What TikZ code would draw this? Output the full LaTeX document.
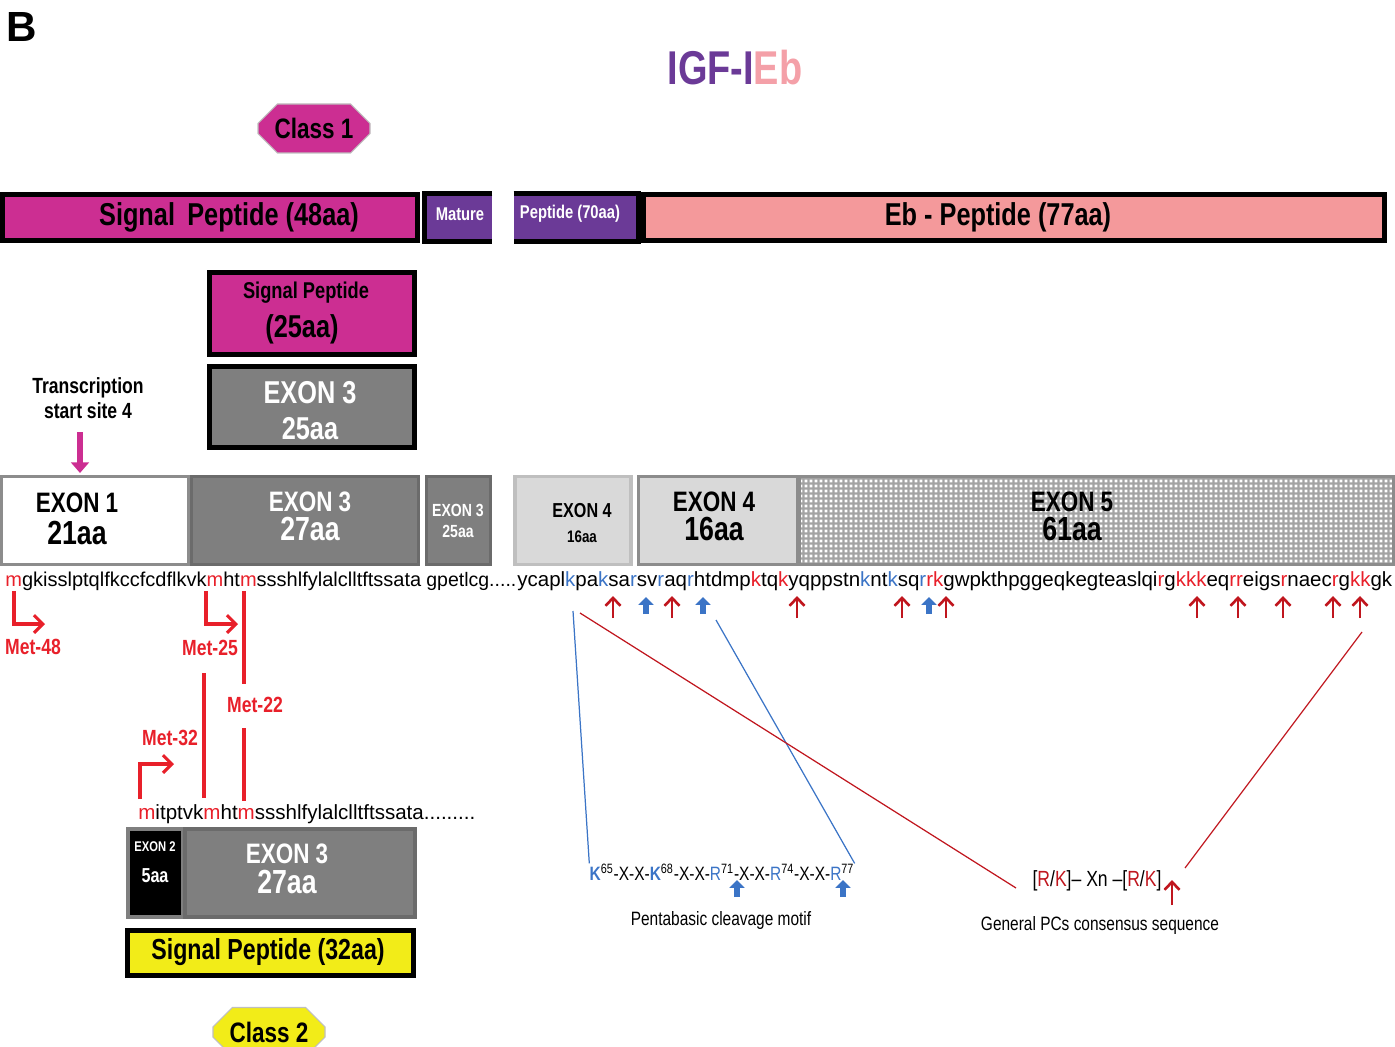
\documentclass[tikz,border=0pt]{standalone}
\usepackage{fontspec,graphicx}
\setmainfont{Liberation Sans}
\newfontfamily\narrowfont[FakeStretch=0.8]{Liberation Sans}
\usetikzlibrary{shapes.misc,patterns,arrows.meta}
\pgfdeclarepatternformonly{finegrid}{\pgfpointorigin}{\pgfqpoint{2.6pt}{2.6pt}}{\pgfqpoint{2.6pt}{2.6pt}}{\pgfpathrectangle{\pgfqpoint{0.45pt}{0.45pt}}{\pgfqpoint{1.7pt}{1.7pt}}\pgfusepath{fill}}
\definecolor{cc2e92}{HTML}{CC2E92}
\definecolor{6b3a97}{HTML}{6B3A97}
\definecolor{f4999b}{HTML}{F4999B}
\definecolor{f4a0a8}{HTML}{F4A0A8}
\definecolor{7f7f7f}{HTML}{7F7F7F}
\definecolor{6b6b6b}{HTML}{6B6B6B}
\definecolor{8c8c8c}{HTML}{8C8C8C}
\definecolor{a3a3a3}{HTML}{A3A3A3}
\definecolor{d9d9d9}{HTML}{D9D9D9}
\definecolor{f2ec18}{HTML}{F2EC18}
\definecolor{e8202a}{HTML}{E8202A}
\definecolor{c0161e}{HTML}{C0161E}
\definecolor{3b74c6}{HTML}{3B74C6}
\newcommand{\fsz}[2]{\fontsize{#1}{#2}\selectfont}
\newcommand{\rd}[1]{\textcolor{e8202a}{#1}}
\newcommand{\dr}[1]{\textcolor{c0161e}{#1}}
\newcommand{\bl}[1]{\textcolor{3b74c6}{#1}}

\begin{document}
\begin{tikzpicture}[x=0.02cm,y=-0.02cm,>=latex,
    sz/.style 2 args={minimum width=#1*0.02cm,minimum height=#2*0.02cm},
    bx/.style={rectangle,inner sep=0,draw=black,line width=2.8pt},
    ex/.style={rectangle,inner sep=0,line width=2pt},
    lbl/.style={inner sep=0,align=center,font=\narrowfont\bfseries},
    octa/.style={chamfered rectangle,chamfered rectangle xsep=5pt,chamfered rectangle ysep=6pt,
        inner sep=0,sz={112}{49},draw=black!25,line width=.6pt,font=\narrowfont\bfseries\fsz{16}{18}},
    metarrow/.style={e8202a,line width=1.8pt,-{Straight Barb[length=5pt,width=10pt]}},
    metline/.style={e8202a,line width=1.8pt},
    met/.style={inner sep=0,text=e8202a,font=\narrowfont\bfseries\fsz{12.5}{14}},
    pcarrow/.style={c0161e,line width=1.5pt,-{Straight Barb[length=4.5pt,width=8.5pt]}},
    pbarrow/.style={3b74c6,line width=3.4pt,-{Triangle[length=4.5pt,width=8.5pt]}},
    ]
    \useasboundingbox (0,0) rectangle (1395,1047);
    % title
    \node[inner sep=0,font=\bfseries\fsz{24}{26}] (panel) at (22,27) {B};
    \node[lbl,font=\narrowfont\bfseries\fsz{27}{29}] (title) at (735,68) {\textcolor{6b3a97}{IGF-I}\textcolor{f4a0a8}{Eb}};
    \node[octa,fill=cc2e92] (cls1) at (314,128.5) {Class 1};
    % peptide bar
    \node[bx,sz={415}{46},fill=cc2e92] (sp48) at (210,217.5) {};
    \node[lbl,font=\narrowfont\bfseries\fsz{18}{19}] (sp48t) at (229,217) {Signal\, Peptide (48aa)};
    \node[rectangle,inner sep=0,sz={67}{48},fill=6b3a97] (mat) at (458.5,217.5) {};
    \draw[line width=2.8pt](mat.north east)--(mat.north west)--(mat.south west)--(mat.south east);
    \node[lbl,text=white,font=\narrowfont\bfseries\fsz{10.5}{12}] (matt) at (460,214) {Mature};
    \node[rectangle,inner sep=0,sz={124}{48},fill=6b3a97] (p70) at (576,217.5) {};
    \draw[line width=2.8pt](p70.north west)--(p70.north east)--(p70.south east)--(p70.south west);
    \node[lbl,text=white,font=\narrowfont\bfseries\fsz{10.5}{12}] (p70t) at (570,214) {Peptide (70aa)};
    \node[bx,sz={741}{46},fill=f4999b] (eb) at (1014,217.5) {};
    \node[lbl,font=\narrowfont\bfseries\fsz{18}{19}] (ebt) at (998,217) {Eb - Peptide (77aa)};
    % class 1 signal peptide
    \node[bx,sz={205}{82},fill=cc2e92] (sp25) at (312,313.5) {};
    \node[lbl,font=\narrowfont\bfseries\fsz{13}{15}] (sp25a) at (306,293) {Signal Peptide};
    \node[lbl,font=\narrowfont\bfseries\fsz{18}{20}] (sp25b) at (302,329) {(25aa)};
    \node[bx,sz={205}{81},fill=7f7f7f] (ex3a) at (312,407) {};
    \node[lbl,text=white,font=\narrowfont\bfseries\fsz{18}{20.5}] (ex3at) at (310,411) {EXON 3\\25aa};
    % transcription start
    \node[lbl,font=\narrowfont\bfseries\fsz{12.5}{14.5}] (tss) at (88,398) {Transcription\\start site 4};
    \draw[cc2e92,line width=3pt,-{Triangle[length=6pt,width=10pt]}](80,432)--(80,473);
    % exon row
    \node[ex,sz={187}{88},fill=white,draw=8c8c8c] (ex1) at (95,520.5) {};
    \node[lbl,font=\narrowfont\bfseries\fsz{16}{18}] (ex1t) at (77,519) {EXON 1\\\fsz{19}{18}21aa};
    \node[ex,sz={227}{88},fill=7f7f7f,draw=6b6b6b] (ex3b) at (305,520.5) {};
    \node[lbl,text=white,font=\narrowfont\bfseries\fsz{16}{16.5}] (ex3bt) at (310,516) {EXON 3\\\fsz{19}{16.5}27aa};
    \node[ex,sz={64}{88},fill=7f7f7f,draw=6b6b6b] (ex3c) at (458.5,520.5) {};
    \node[lbl,text=white,font=\narrowfont\bfseries\fsz{10}{12}] (ex3ct) at (458,521) {EXON 3\\25aa};
    \node[ex,sz={116}{88},fill=d9d9d9,draw=black!25] (ex4a) at (573,520.5) {};
    \node[lbl,font=\narrowfont\bfseries\fsz{11.5}{14}] (ex4at) at (582,523) {EXON 4\\\fsz{9.5}{14}16aa};
    \node[ex,sz={594}{88},preaction={fill=a3a3a3},pattern=finegrid,pattern color=white,draw=8c8c8c] (ex5) at (1096.5,520.5) {};
    \node[ex,sz={159}{88},fill=d9d9d9,draw=8c8c8c] (ex4b) at (718,520.5) {};
    \node[lbl,font=\narrowfont\bfseries\fsz{16}{16.5}] (ex4bt) at (714,516) {EXON 4\\\fsz{19}{16.5}16aa};
    \node[lbl,font=\narrowfont\bfseries\fsz{16}{16.5}] (ex5t) at (1072,516) {EXON 5\\\fsz{19}{16.5}61aa};
    % sequence
    \node[inner sep=0,anchor=base west] (seqL) at (5,586) {\resizebox{8.32cm}{!}{\fsz{12}{14}\rd{m}gkisslptqlfkccfcdflkvk\rd{m}ht\rd{m}ssshlfylalclltftssata}};
    \node[inner sep=0,anchor=base west] (seqM) at (426,586) {\resizebox{1.8cm}{!}{\fsz{12}{14}gpetlcg.....}};
    \node[inner sep=0,anchor=base west] (seqR) at (517,586) {\resizebox{17.5cm}{!}{\fsz{12}{14}ycapl\bl{k}pa\bl{k}sa\bl{r}sv\bl{r}aq\bl{r}htdmp\rd{k}tq\rd{k}yqppstn\bl{k}nt\bl{k}sq\bl{r}\rd{rk}gwpkthpggeqkegteaslqi\rd{r}g\rd{kkk}eq\rd{rr}eigs\rd{r}naec\rd{r}g\rd{kk}gk}};
    % cleavage sites
    \foreach \x in {613,672,797,902,946,1197,1238,1283,1333,1360}
        \draw[pcarrow](\x,618)--(\x,596);
    \foreach \x in {646,703,929}
        \draw[pbarrow](\x,614)--(\x,597);
    % start codons
    \coordinate(m48)at(14,591);
    \coordinate(m25)at(206,591);
    \draw[metarrow](m48)|-++(31,33);
    \node[met] (m48t) at (33,647) {Met-48};
    \draw[metarrow](m25)|-++(32,33);
    \node[met] (m25t) at (210,648) {Met-25};
    \node[met] (m22t) at (255,705) {Met-22};
    \node[met] (m32t) at (170,738) {Met-32};
    \draw[metline](244,591)--(244,684);
    \draw[metline](244,728)--(244,801);
    \draw[metline](204,673)--(204,798);
    \coordinate(m32)at(140,799);
    \draw[metarrow](m32)|-++(34,-35);
    % class 2
    \node[inner sep=0,anchor=base west] (seq2) at (138,819) {\resizebox{6.74cm}{!}{\fsz{12}{14}\rd{m}itptvk\rd{m}ht\rd{m}ssshlfylalclltftssata.........}};
    \node[ex,sz={55}{88},fill=black,draw=7f7f7f] (ex2) at (155.5,873) {};
    \node[lbl,text=white,font=\narrowfont\bfseries\fsz{8}{12}] (ex2t) at (155,862) {EXON 2\\[6pt]\fsz{11.5}{12}5aa};
    \node[ex,sz={230}{88},fill=7f7f7f,draw=6b6b6b] (ex3d) at (300,873) {};
    \node[lbl,text=white,font=\narrowfont\bfseries\fsz{16}{17}] (ex3dt) at (287,869) {EXON 3\\\fsz{19}{17}27aa};
    \node[bx,sz={286}{45},fill=f2ec18] (sp32) at (270.5,953) {};
    \node[lbl,font=\narrowfont\bfseries\fsz{16.5}{18}] (sp32t) at (268,952) {Signal Peptide (32aa)};
    \node[octa,fill=f2ec18] (cls2) at (269,1032) {Class 2};
    % cleavage motifs
    \node[inner sep=0,font=\narrowfont\fsz{11}{13}] (penta) at (722,872) {\bl{\textbf{K}}\textsuperscript{65}-X-X-\bl{\textbf{K}}\textsuperscript{68}-X-X-\bl{R}\textsuperscript{71}-X-X-\bl{R}\textsuperscript{74}-X-X-\bl{R}\textsuperscript{77}};
    \draw[pbarrow](737,897)--(737,880);
    \draw[pbarrow](843,897)--(843,880);
    \node[inner sep=0,font=\narrowfont\fsz{11}{13}] (pentat) at (721,920) {Pentabasic cleavage motif};
    \node[inner sep=0,font=\narrowfont\fsz{12.5}{14}] (pcs) at (1097,881) {[\dr{R}/\dr{K}]\textendash{} Xn \textendash[\dr{R}/\dr{K}]};
    \draw[pcarrow](1172,905)--(1172,880);
    \node[inner sep=0,font=\narrowfont\fsz{11}{13}] (pcst) at (1100,925) {General PCs consensus sequence};
    % links
    \coordinate(kA)at(573,611);
    \coordinate(kB)at(716,620);
    \coordinate(kC)at(580,613);
    \coordinate(kD)at(1362,632);
    \coordinate(kE)at(1016,888);
    \coordinate(kF)at(1185,868);
    \draw[3b74c6,line width=.7pt](kA)--(penta.north west);
    \draw[3b74c6,line width=.7pt](kB)--(penta.north east);
    \draw[c0161e,line width=.7pt](kC)--(kE);
    \draw[c0161e,line width=.7pt](kD)--(kF);
\end{tikzpicture}
\end{document}
